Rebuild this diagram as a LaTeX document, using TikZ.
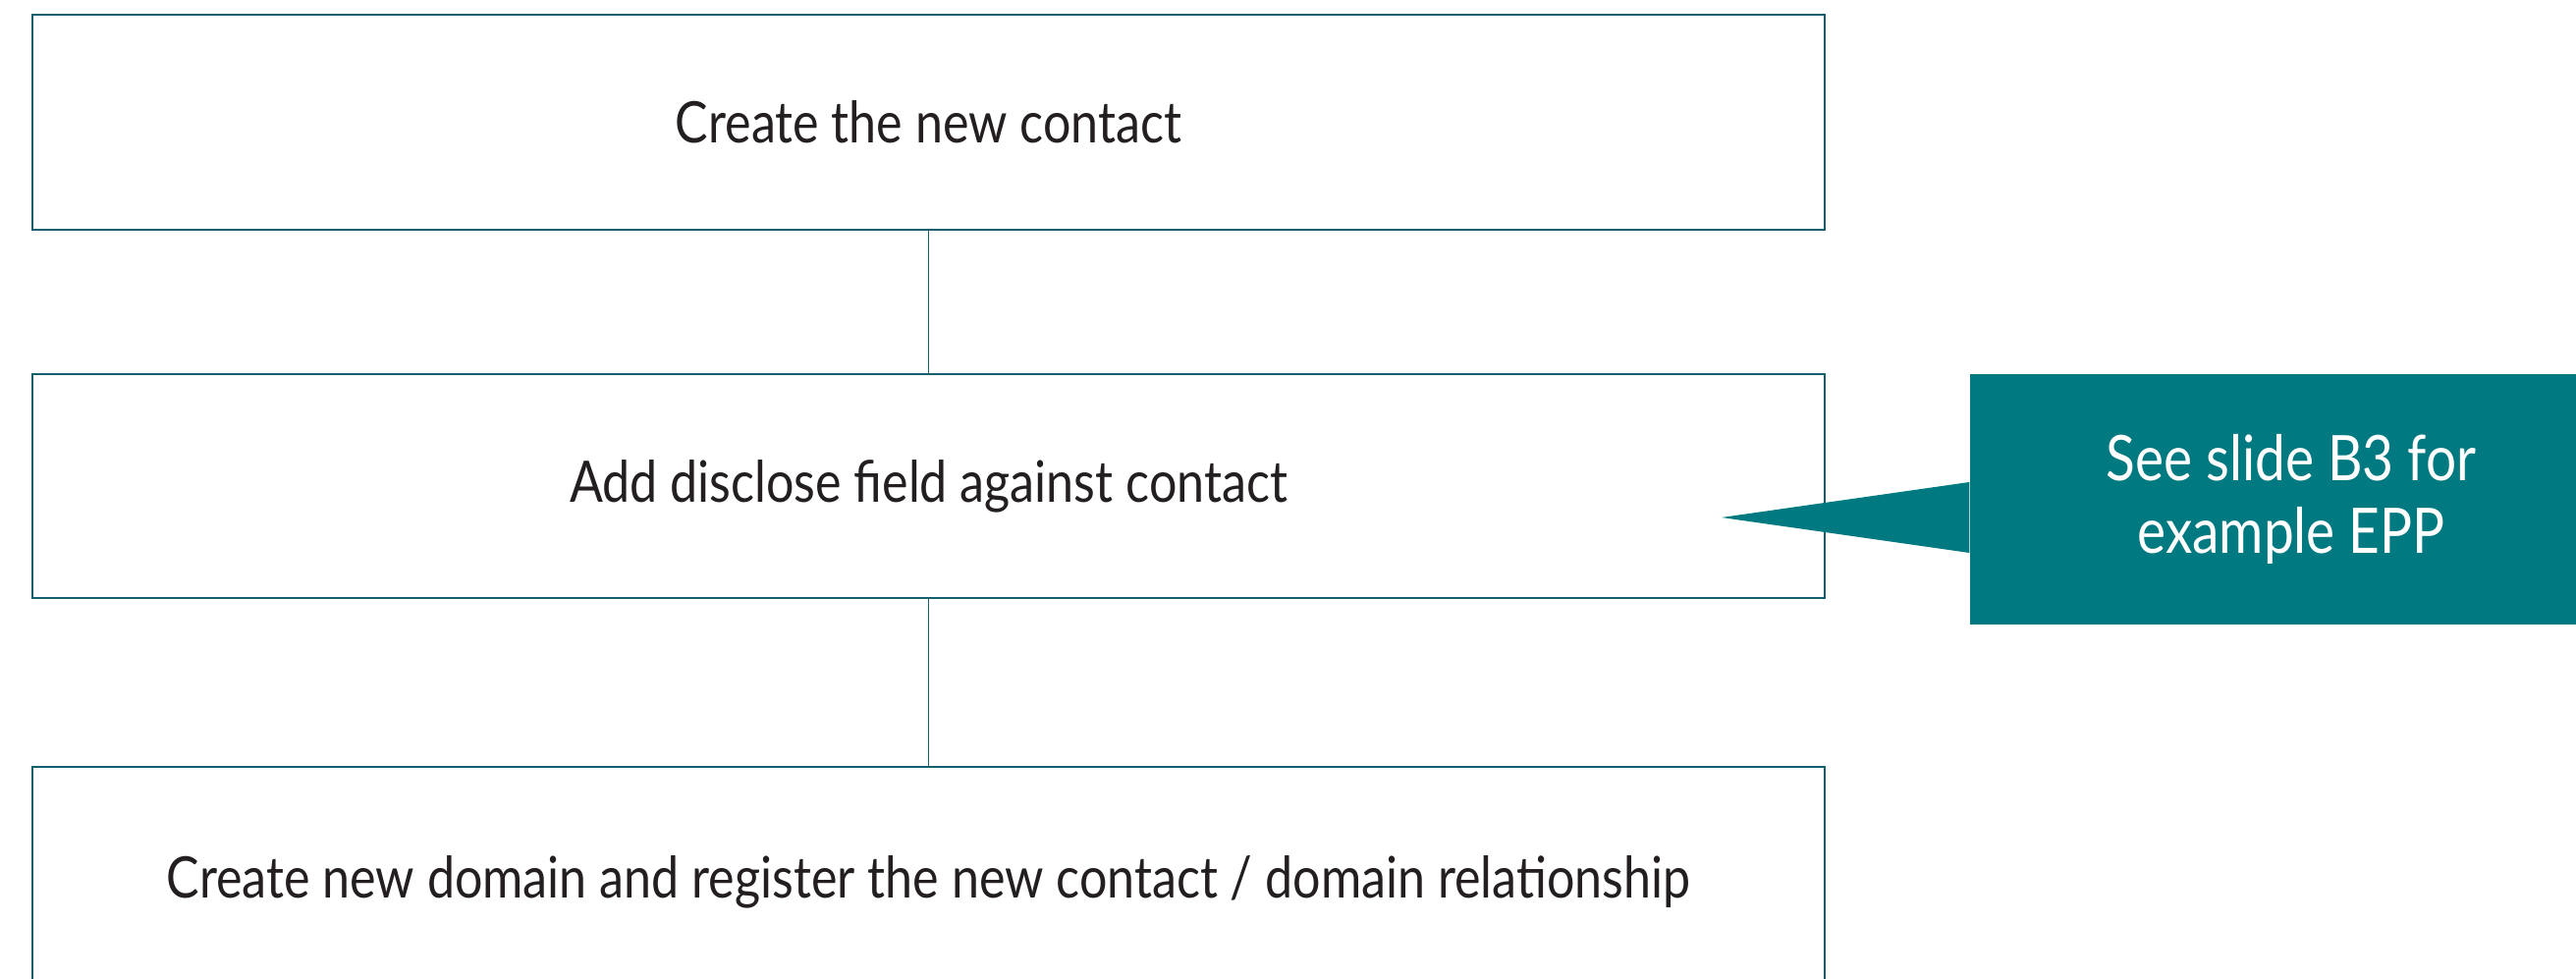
\documentclass[tikz,border=0pt]{standalone}
\usepackage{fontspec}
\setmainfont{Lato}[FakeStretch=0.86]
\usetikzlibrary{positioning}
\definecolor{lineteal}{HTML}{135F6E}
\definecolor{noteteal}{HTML}{007A80}
\definecolor{textgrey}{HTML}{231F20}
\tikzset{
  stepbox/.style={draw=lineteal, line width=0.6pt, minimum width=18.25cm,
    text=textgrey, font=\fontsize{16.6}{21}\selectfont},
  notebox/.style={fill=noteteal, minimum width=6.54cm, minimum height=2.55cm,
    text=white, align=center, font=\fontsize{18.2}{21}\selectfont}
}
\begin{document}
\begin{tikzpicture}
        % Fix the page size
        \useasboundingbox (0,0) rectangle (26.23,9.97);

        % The three steps
        \node[stepbox, minimum height=2.19cm] (create) at (9.455,8.725) {Create the new contact};
        \node[stepbox, minimum height=2.28cm] (disclose) at (9.455,5.02) {Add disclose field against contact};
        \node[stepbox, minimum height=2.34cm] (register) at (9.455,0.99) {Create new domain and register the new contact / domain relationship};

        % Connectors between the steps
        \draw[lineteal, line width=0.4pt] (create.south) -- (disclose.north);
        \draw[lineteal, line width=0.4pt] (disclose.south) -- (register.north);

        % The callout and its pointer
        \node[notebox] (note) at (23.33,4.885) {See slide B3 for\\example EPP};
        \coordinate (tip) at (17.53,4.70);
        \fill[noteteal] (note.west |- 0,5.06) -- (tip) -- (note.west |- 0,4.34) -- cycle;
    \end{tikzpicture}
\end{document}
